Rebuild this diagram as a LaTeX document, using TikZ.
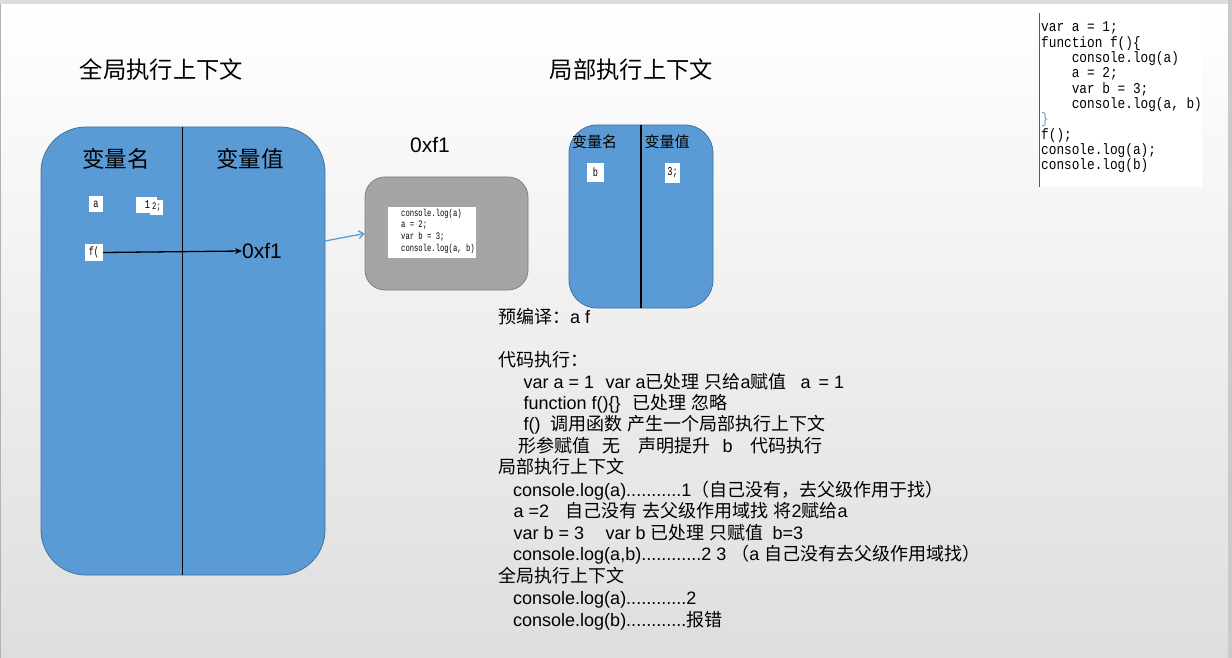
\documentclass[tikz,border=0pt]{standalone}
\usepackage{fontspec}
\setmainfont{Liberation Sans}
\newfontfamily\cjk{Noto Sans CJK SC}
\newfontfamily\codefont[FakeStretch=0.85]{Liberation Mono}
\newfontfamily\scodefont[FakeStretch=0.72]{Liberation Mono}
\usetikzlibrary{arrows.meta}
\definecolor{boxblue}{HTML}{5B9BD5}
\definecolor{boxedge}{HTML}{41719C}
\definecolor{graybox}{HTML}{A5A5A5}
\definecolor{grayedge}{HTML}{7F7F7F}
\definecolor{bgbot}{HTML}{DEDEDE}
\definecolor{bgband}{HTML}{DCDCDC}
\definecolor{bgright}{HTML}{CACACA}
% automatic switch to the CJK font for Chinese characters
\newXeTeXintercharclass\CJKcls
\newcount\cc
\def\setcls#1#2#3{\cc=#1\relax\loop\XeTeXcharclass\cc=#3\relax\ifnum\cc<#2\relax\advance\cc by 1\repeat}
\setcls{0}{255}{0}
\setcls{"3000}{"303F}{\CJKcls}
\setcls{"4E00}{"9FFF}{\CJKcls}
\setcls{"FF00}{"FFEF}{\CJKcls}
\XeTeXinterchartoks 0 \CJKcls = {\begingroup\cjk}
\XeTeXinterchartoks 4095 \CJKcls = {\begingroup\cjk}
\XeTeXinterchartoks \CJKcls 0 = {\endgroup}
\XeTeXinterchartoks \CJKcls 4095 = {\endgroup}
\XeTeXinterchartokenstate=1
\newcommand\seg[2]{\rlap{\hspace*{#1pt}#2}}
\newcommand\ind{\hspace*{30.6pt}}
\tikzset{
  bluebox/.style={draw=boxedge, line width=0.8pt, fill=boxblue},
  whitebox/.style={fill=white, inner sep=0pt, font=\scodefont\fontsize{12}{12}\selectfont},
  txt/.style={anchor=base west, inner sep=0pt, font=\fontsize{18}{21}\selectfont},
  code/.style={anchor=base west, inner sep=0pt, font=\codefont\fontsize{15}{15}\selectfont},
  scode/.style={anchor=base west, inner sep=0pt, font=\scodefont\fontsize{10}{10}\selectfont},
}
\begin{document}
\begin{tikzpicture}[x=1pt,y=-1pt]
\useasboundingbox (0,0) rectangle (1232,658);
% background
\fill[top color=white, bottom color=bgbot] (0,4) rectangle (1232,658);
\fill[bgband] (0,0) rectangle (1232,4);
\fill[bgright] (1228,0) rectangle (1232,658);
\draw[gray!60, line width=0.8pt] (0.5,4) -- (0.5,658);

% titles
\node[font=\fontsize{23.3}{28}\selectfont] (tg) at (161.5,70) {全局执行上下文};
\node[font=\fontsize{23.3}{28}\selectfont] (tl) at (631.5,70) {局部执行上下文};

% global context box
\node[bluebox, rounded corners=45pt, minimum width=284pt, minimum height=448pt, inner sep=0pt] (gbox) at (183,351) {};
\draw[black, line width=0.8pt] (182,127) -- (182,575);
\node[font=\fontsize{22.5}{26}\selectfont] (gn) at (116,159) {变量名};
\node[font=\fontsize{22.5}{26}\selectfont] (gv) at (250,159) {变量值};
\node[whitebox, minimum width=14pt, minimum height=16pt] (va) at (96,204) {a};
\node[whitebox, minimum width=21pt, minimum height=16pt] (v1) at (146.5,205) {\hspace*{2pt}1};
\node[whitebox, minimum width=13pt, minimum height=15pt, font=\scodefont\fontsize{10}{10}\selectfont] (v2) at (156.5,207.5) {2;};
\node[whitebox, minimum width=18pt, minimum height=17pt] (vf) at (94,252.5) {f(};
\node[anchor=west, inner sep=0pt, font=\fontsize{21}{24}\selectfont] (addr) at (242,251) {0xf1};
\draw[line width=1.3pt, -{Stealth[length=7pt,width=6pt]}] (vf.east) -- (addr.west);

% function object
\node[font=\fontsize{21}{24}\selectfont] (addrlbl) at (430,145) {0xf1};
\node[draw=grayedge, line width=0.8pt, fill=graybox, rounded corners=20pt, minimum width=163pt, minimum height=113pt, inner sep=0pt] (fbox) at (446.5,233.5) {};
\node[fill=white, minimum width=88pt, minimum height=51pt, inner sep=0pt] (fcode) at (432,232.5) {};
\foreach \t [count=\i] in {{console.log(a)},{a = 2;},{var b = 3;},{console.log(a, b)}}
  \node[scode] (s\i) at (401,{216+11.7*(\i-1)}) {\t};
\coordinate (bs) at (325,241);
\draw[boxblue, line width=1.3pt, -{Straight Barb[length=5pt,width=8pt]}] (bs) -- (fbox.west);

% local context box
\node[bluebox, rounded corners=28pt, minimum width=144pt, minimum height=183pt, inner sep=0pt] (lbox) at (641,216.5) {};
\draw[black, line width=1.6pt] (641,125) -- (641,308);
\node[font=\fontsize{15}{18}\selectfont] (ln) at (594.5,142) {变量名};
\node[font=\fontsize{15}{18}\selectfont] (lv) at (667,142) {变量值};
\node[whitebox, minimum width=17pt, minimum height=19pt] (lb) at (595.5,172.5) {b};
\node[whitebox, minimum width=15pt, minimum height=20pt] (l3v) at (672.5,173) {3;};

% source code
\fill[white] (1039,13) rectangle (1202,187);
\draw[gray!70!black, line width=0.7pt] (1039,13) -- (1039,187);
\foreach \t [count=\i] in {{var a = 1;},{function f()\{},{\ind console.log(a)},{\ind a = 2;},{\ind var b = 3;},{\ind console.log(a, b)},{\textcolor{boxedge!70}{\}}},{f();},{console.log(a);},{console.log(b)}}
  \node[code] (c\i) at (1041,{32+15.3*(\i-1)}) {\t};

% explanation text
\node[txt] (l1) at (498,323) {预编译：a f};
\node[txt] (l2) at (498,366) {代码执行：};
\node[txt] (l3) at (523,388) {\seg{0}{var a = 1}\seg{82}{var a已处理 只给a赋值}\seg{277}{a}\seg{295}{= 1}};
\node[txt] (l4) at (523,409) {\seg{0}{function f()\{\}}\seg{109}{已处理 忽略}};
\node[txt] (l5) at (523,430) {\seg{0}{f()}\seg{27}{调用函数 产生一个局部执行上下文}};
\node[txt] (l6) at (518,452) {\seg{0}{形参赋值}\seg{84}{无}\seg{120}{声明提升}\seg{204}{b}\seg{232}{代码执行}};
\node[txt] (l7) at (498,473) {局部执行上下文};
\node[txt] (l8) at (513,496) {console.log(a)...........1（自己没有，去父级作用于找）};
\node[txt] (l9) at (513,517) {\seg{0}{a =2}\seg{52}{自己没有 去父级作用域找 将2赋给a}};
\node[txt] (l10) at (513,539) {\seg{0}{var b = 3}\seg{92}{var b 已处理 只赋值}\seg{259}{b=3}};
\node[txt] (l11) at (513,560) {console.log(a,b)............2 3 （a 自己没有去父级作用域找）};
\node[txt] (l12) at (498,582) {全局执行上下文};
\node[txt] (l13) at (513,604) {console.log(a)............2};
\node[txt] (l14) at (513,626) {console.log(b)............报错};
\end{tikzpicture}
\end{document}
